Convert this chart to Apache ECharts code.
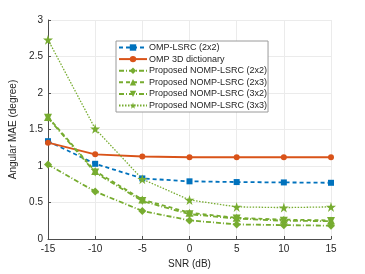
<!DOCTYPE html>
<html><head><meta charset="utf-8">
<script src="https://cdn.jsdelivr.net/npm/echarts@6/dist/echarts.min.js"></script>
<style>html,body{margin:0;padding:0;background:#fff}#c{width:365px;height:274px}</style>
</head><body><div id="c"></div>
<script>
const snr = [-15, -10, -5, 0, 5, 10, 15];
const ompLsrc = [1.34, 1.03, 0.83, 0.79, 0.78, 0.775, 0.77];
const omp3d = [1.32, 1.16, 1.13, 1.12, 1.12, 1.12, 1.12];
const nomp22 = [1.02, 0.65, 0.385, 0.255, 0.2, 0.19, 0.183];
const nomp23 = [1.67, 0.93, 0.54, 0.36, 0.29, 0.265, 0.255];
const nomp32 = [1.66, 0.91, 0.52, 0.34, 0.28, 0.25, 0.245];
const nomp33 = [2.73, 1.51, 0.82, 0.535, 0.44, 0.43, 0.44];
const names = ['OMP-LSRC (2x2)','OMP 3D dictionary','Proposed NOMP-LSRC (2x2)','Proposed NOMP-LSRC (2x3)','Proposed NOMP-LSRC (3x2)','Proposed NOMP-LSRC (3x3)'];
const yTicks = ['0','0.5','1','1.5','2','2.5','3'];

const blue='#0072BD', orange='#D95319', green='#77AC30';
const star='path://M50,0 L61,35 L98,35 L68,57 L79,91 L50,70 L21,91 L32,57 L2,35 L39,35 Z';
function pts(a){return snr.map((x,i)=>[x,a[i]]);}
function ser(name,data,color,type,symbol,size,w,rot){
  return {name,type:'line',data:pts(data),symbol,symbolSize:size,symbolRotate:rot||0,
    lineStyle:{color,width:w,type},itemStyle:{color,borderColor:color,borderWidth:0},
    showAllSymbol:true,animation:false,z:3};
}
const font='"Liberation Sans", Arial, sans-serif';
const chart=echarts.init(document.getElementById('c'),null,{renderer:'canvas'});
chart.setOption({
  animation:false,
  grid:{left:47,right:34,top:20,bottom:32.5,containLabel:false},
  xAxis:{type:'value',min:-15,max:15,interval:5,
    name:'SNR (dB)',nameLocation:'middle',nameGap:20,
    nameTextStyle:{color:'#262626',fontSize:10,fontFamily:font},
    axisLine:{onZero:false,lineStyle:{color:'#4d4d4d',width:1}},
    axisTick:{inside:true,length:3,lineStyle:{color:'#4d4d4d'}},
    axisLabel:{color:'#262626',fontSize:10,fontFamily:font,margin:5},
    splitLine:{show:true,lineStyle:{color:'#ebebeb',width:1}}},
  yAxis:{type:'value',min:0,max:3,interval:0.5,
    name:'Angular MAE (degree)',nameLocation:'middle',nameGap:30,
    nameTextStyle:{color:'#262626',fontSize:10,fontFamily:font},
    axisLine:{show:true,onZero:false,lineStyle:{color:'#4d4d4d',width:1}},
    axisTick:{show:true,inside:true,length:3,lineStyle:{color:'#4d4d4d'}},
    axisLabel:{color:'#262626',fontSize:10,fontFamily:font,margin:5,
      formatter:(v)=>yTicks[Math.round(v/0.5)]},
    splitLine:{show:true,lineStyle:{color:'#ebebeb',width:1}}},
  legend:{orient:'vertical',left:116,top:41,
    backgroundColor:'#fff',borderColor:'#9a9a9a',borderWidth:1,borderRadius:0,
    padding:[2,1,2,2],itemGap:2.6,itemWidth:28,itemHeight:8,
    textStyle:{color:'#262626',fontSize:9,fontFamily:font,padding:[0,0,0,-3]},
    data:names},
  series:[
    ser(names[0],ompLsrc,blue,[4,3],'rect',6,1.8),
    ser(names[1],omp3d,orange,'solid','circle',6,1.8),
    ser(names[2],nomp22,green,[5,2,1,2],'diamond',8,1.8),
    ser(names[3],nomp23,green,[4,3],'triangle',8,1.8),
    ser(names[4],nomp32,green,[5,2,1,2],'triangle',8,1.8,180),
    ser(names[5],nomp33,green,[1.5,1.5],star,10,1.3)
  ]
});
</script></body></html>
